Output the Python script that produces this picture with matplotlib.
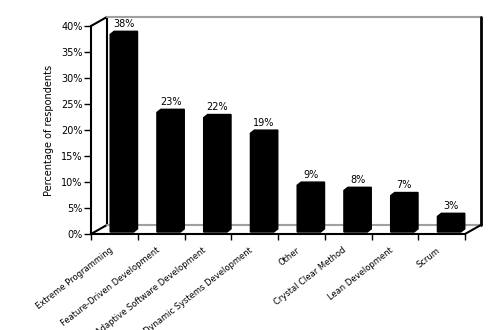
#!/usr/bin/env python
import numpy as np
import matplotlib
matplotlib.use('Agg')
import matplotlib.pyplot as plt
from matplotlib.transforms import ScaledTranslation

# data
methods = ['Extreme Programming', 'Feature-Driven Development',
           'Adaptive Software Development', 'Dynamic Systems Development',
           'Other', 'Crystal Clear Method', 'Lean Development', 'Scrum']
percent = [38, 23, 22, 19, 9, 8, 7, 3]
yticks = [0, 5, 10, 15, 20, 25, 30, 35, 40]

# fake 3D geometry (data units)
depth_x, depth_y = 0.34, 1.73     # depth of the box walls
bar_shift, bar_base = 0.16, 0.38  # where the bars stand on the floor
bar_w = 0.5
bevel_x, bevel_y = 0.085, 0.6     # bar thickness
grey = '#a0a0a0'


def draw_box(ax, n, ymax):
    '''Draws the side wall and the back edges of the pseudo 3D frame'''
    kw = dict(clip_on=False, solid_capstyle='round', zorder=1)
    # left wall
    ax.fill([0, 0, depth_x, depth_x], [0, ymax, ymax + depth_y, depth_y],
            facecolor='white', edgecolor='none', clip_on=False, zorder=0)
    ax.plot([0, depth_x], [ymax, ymax + depth_y], color='black', lw=1.5, **kw)
    ax.plot([0, depth_x], [0, depth_y], color='black', lw=1.5, **kw)
    ax.plot([depth_x, depth_x], [depth_y, ymax + depth_y], color='black', lw=1.5, **kw)
    # back edges
    ax.plot([depth_x, n + depth_x], [ymax + depth_y] * 2, color=grey, lw=1.5, **kw)
    ax.plot([depth_x, n + depth_x], [depth_y] * 2, color=grey, lw=1.5, **kw)
    ax.plot([n + depth_x] * 2, [depth_y, ymax + depth_y], color='black', lw=2, **kw)
    ax.plot([n, n + depth_x], [0, depth_y], color='black', lw=1.5, **kw)


def plot_bars(ax, values):
    '''Plots the black 3D-ish bars with their percentage labels'''
    x = np.arange(len(values)) + 0.5 + bar_shift
    ax.bar(x, values, width=bar_w, bottom=bar_base, color='black', zorder=3)
    for xi, v in zip(x, values):
        x0, x1 = xi - bar_w / 2, xi + bar_w / 2
        top = bar_base + v
        ax.fill([x0, x1, x1 + bevel_x, x1 + bevel_x, x0 + bevel_x, x0],
                [bar_base, bar_base, bar_base + bevel_y, top + bevel_y, top + bevel_y, top],
                color='black', zorder=3, clip_on=False)
        ax.text(xi + bevel_x / 2, top + bevel_y + 0.5, '%d%%' % v,
                ha='center', va='bottom', fontsize=7, zorder=4)


if __name__ == '__main__':
    fig = plt.figure(figsize=(4.94, 3.30), dpi=100)
    ax = fig.add_axes([91 / 494, 1 - 234 / 330, 374 / 494, 208 / 330])
    n = len(methods)
    ax.set_xlim(0, n)
    ax.set_ylim(0, 40)

    draw_box(ax, n, 40)
    plot_bars(ax, percent)

    for side in ['top', 'right']:
        ax.spines[side].set_visible(False)
    for side in ['left', 'bottom']:
        ax.spines[side].set_linewidth(1.5)
        ax.spines[side].set_zorder(5)

    ax.set_yticks(yticks)
    ax.set_yticklabels(['%d%%' % t for t in yticks], fontsize=7)
    ax.tick_params(axis='y', direction='out', length=5, width=1, pad=1)

    ax.set_xticks(np.arange(n + 1), minor=True)
    ax.set_xticks(np.arange(n) + 0.5)
    ax.set_xticklabels(methods, fontsize=6, rotation=38, ha='right', va='center',
                       rotation_mode='anchor')
    ax.tick_params(axis='x', which='major', length=0, pad=11)
    ax.tick_params(axis='x', which='minor', direction='out', length=4, width=1)
    shift = ScaledTranslation(-2 / 72, 0, fig.dpi_scale_trans)
    for lbl in ax.get_xticklabels():
        lbl.set_transform(lbl.get_transform() + shift)

    ax.set_ylabel('Percentage of respondents', fontsize=7)
    ax.yaxis.set_label_coords(-0.10, 0.5)

    fig.savefig('out.png', dpi=100)
